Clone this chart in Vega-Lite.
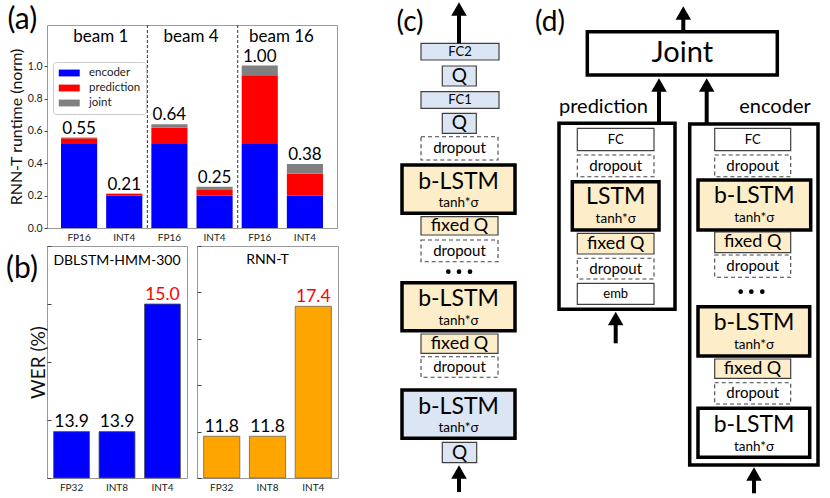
{
  "$schema": "https://vega.github.io/schema/vega-lite/v6.json",
  "background": "white",
  "padding": {"left": 5, "top": 2, "right": 0, "bottom": 0},
  "autosize": {"type": "pad"},
  "config": {
    "font": "Lato",
    "view": {"stroke": "#999"},
    "axis": {"grid": false, "domain": false, "titleFontWeight": "normal", "labelColor": "#222", "titleColor": "#111", "labelFont": "Lato", "titleFont": "Lato", "tickColor": "#444"},
    "legend": {"labelFont": "Lato"},
    "text": {"font": "Lato"}
  },
  "datasets": {
    "runtime": [
      {"cat": "1|FP16", "comp": "encoder", "v": 0.52, "k": 1, "lab": "0.55"},
      {"cat": "1|FP16", "comp": "prediction", "v": 0.035, "k": 2, "lab": "0.55"},
      {"cat": "1|FP16", "comp": "joint", "v": 0.004, "k": 3, "lab": "0.55"},
      {"cat": "1|INT4", "comp": "encoder", "v": 0.2, "k": 1, "lab": "0.21"},
      {"cat": "1|INT4", "comp": "prediction", "v": 0.01, "k": 2, "lab": "0.21"},
      {"cat": "1|INT4", "comp": "joint", "v": 0.003, "k": 3, "lab": "0.21"},
      {"cat": "4|FP16", "comp": "encoder", "v": 0.52, "k": 1, "lab": "0.64"},
      {"cat": "4|FP16", "comp": "prediction", "v": 0.1, "k": 2, "lab": "0.64"},
      {"cat": "4|FP16", "comp": "joint", "v": 0.022, "k": 3, "lab": "0.64"},
      {"cat": "4|INT4", "comp": "encoder", "v": 0.2, "k": 1, "lab": "0.25"},
      {"cat": "4|INT4", "comp": "prediction", "v": 0.035, "k": 2, "lab": "0.25"},
      {"cat": "4|INT4", "comp": "joint", "v": 0.02, "k": 3, "lab": "0.25"},
      {"cat": "16|FP16", "comp": "encoder", "v": 0.52, "k": 1, "lab": "1.00"},
      {"cat": "16|FP16", "comp": "prediction", "v": 0.424, "k": 2, "lab": "1.00"},
      {"cat": "16|FP16", "comp": "joint", "v": 0.06, "k": 3, "lab": "1.00"},
      {"cat": "16|INT4", "comp": "encoder", "v": 0.2, "k": 1, "lab": "0.38"},
      {"cat": "16|INT4", "comp": "prediction", "v": 0.135, "k": 2, "lab": "0.38"},
      {"cat": "16|INT4", "comp": "joint", "v": 0.06, "k": 3, "lab": "0.38"}
    ],
    "boxes": [
      {"x1": 560, "x2": 676, "y1": 123.3, "y2": 309.3, "c": "white", "b": "frame"},
      {"x1": 690.7, "x2": 819, "y1": 124, "y2": 465, "c": "white", "b": "frame"},
      {"x1": 422, "x2": 500, "y1": 43.3, "y2": 60, "c": "blue", "b": "thin"},
      {"x1": 443.3, "x2": 477.3, "y1": 66, "y2": 86, "c": "blue", "b": "thin"},
      {"x1": 422, "x2": 500, "y1": 91.7, "y2": 108.3, "c": "blue", "b": "thin"},
      {"x1": 443.3, "x2": 477.3, "y1": 113.3, "y2": 133.3, "c": "blue", "b": "thin"},
      {"x1": 422, "x2": 499, "y1": 136.7, "y2": 160, "c": "white", "b": "dash"},
      {"x1": 403, "x2": 516, "y1": 165, "y2": 213.3, "c": "yellow", "b": "thick"},
      {"x1": 422, "x2": 499, "y1": 216.7, "y2": 235, "c": "yellow", "b": "thin"},
      {"x1": 422, "x2": 499, "y1": 240, "y2": 261.7, "c": "white", "b": "dash"},
      {"x1": 403, "x2": 516, "y1": 282.7, "y2": 330.7, "c": "yellow", "b": "thick"},
      {"x1": 422, "x2": 499, "y1": 334, "y2": 353.3, "c": "yellow", "b": "thin"},
      {"x1": 422, "x2": 499, "y1": 356.7, "y2": 377.3, "c": "white", "b": "dash"},
      {"x1": 403, "x2": 516, "y1": 390, "y2": 438.3, "c": "blue", "b": "thick"},
      {"x1": 443.3, "x2": 477.7, "y1": 442.3, "y2": 462.7, "c": "blue", "b": "thin"},
      {"x1": 588.3, "x2": 778.3, "y1": 31.7, "y2": 75, "c": "white", "b": "thick"},
      {"x1": 578.3, "x2": 655, "y1": 128.3, "y2": 150.7, "c": "white", "b": "thin"},
      {"x1": 578.3, "x2": 655, "y1": 155, "y2": 176.7, "c": "white", "b": "dash"},
      {"x1": 573.3, "x2": 660, "y1": 181.7, "y2": 230, "c": "yellow", "b": "thick"},
      {"x1": 578.3, "x2": 655, "y1": 233.3, "y2": 254, "c": "yellow", "b": "thin"},
      {"x1": 578.3, "x2": 655, "y1": 258.3, "y2": 279, "c": "white", "b": "dash"},
      {"x1": 578.3, "x2": 655, "y1": 283.3, "y2": 304.3, "c": "white", "b": "thin"},
      {"x1": 715.7, "x2": 791.7, "y1": 128.3, "y2": 150.7, "c": "white", "b": "thin"},
      {"x1": 715.7, "x2": 791.7, "y1": 155, "y2": 176.7, "c": "white", "b": "dash"},
      {"x1": 699, "x2": 811.7, "y1": 180, "y2": 230, "c": "yellow", "b": "thick"},
      {"x1": 715.7, "x2": 791.7, "y1": 232, "y2": 252.7, "c": "yellow", "b": "thin"},
      {"x1": 715.7, "x2": 791.7, "y1": 255, "y2": 277.3, "c": "white", "b": "dash"},
      {"x1": 699, "x2": 810.7, "y1": 306.7, "y2": 356, "c": "yellow", "b": "thick"},
      {"x1": 715.7, "x2": 791.7, "y1": 359, "y2": 378.3, "c": "yellow", "b": "thin"},
      {"x1": 715.7, "x2": 791.7, "y1": 382.7, "y2": 404, "c": "white", "b": "dash"},
      {"x1": 699, "x2": 810.7, "y1": 408.3, "y2": 457.3, "c": "white", "b": "thick"}
    ],
    "arrows": [
      {"x": 460, "tail": 43.3, "neck": 12, "head": 9},
      {"x": 460, "tail": 492, "neck": 475, "head": 472},
      {"x": 684.3, "tail": 31.7, "neck": 16, "head": 13},
      {"x": 660, "tail": 123.3, "neck": 88, "head": 85},
      {"x": 707.7, "tail": 124, "neck": 88, "head": 85},
      {"x": 616.7, "tail": 343.3, "neck": 321, "head": 318.5},
      {"x": 755, "tail": 493.3, "neck": 477, "head": 474}
    ],
    "dots": [
      {"x": 449.3, "y": 271.7}, {"x": 460, "y": 271.7}, {"x": 471, "y": 271.7},
      {"x": 741.7, "y": 291.7}, {"x": 752.3, "y": 291.7}, {"x": 763.3, "y": 291.7}
    ],
    "labels": [
      {"t": "(c)", "x": 411, "y": 23},
      {"t": "FC2", "x": 461, "y": 51.7},
      {"t": "Q", "x": 460.3, "y": 76},
      {"t": "FC1", "x": 461, "y": 100},
      {"t": "Q", "x": 460.3, "y": 123.3},
      {"t": "dropout", "x": 460.5, "y": 148.3},
      {"t": "b-LSTM", "x": 459.5, "y": 181.5},
      {"t": "tanh*σ", "x": 459.5, "y": 203},
      {"t": "fixed Q", "x": 460.5, "y": 225.8},
      {"t": "dropout", "x": 460.5, "y": 250.8},
      {"t": "b-LSTM", "x": 459.5, "y": 299},
      {"t": "tanh*σ", "x": 459.5, "y": 320.5},
      {"t": "fixed Q", "x": 460.5, "y": 343.6},
      {"t": "dropout", "x": 460.5, "y": 367},
      {"t": "b-LSTM", "x": 459.5, "y": 406.5},
      {"t": "tanh*σ", "x": 459.5, "y": 428},
      {"t": "Q", "x": 460.5, "y": 452.5},
      {"t": "(d)", "x": 551, "y": 23},
      {"t": "Joint", "x": 683.3, "y": 53.3},
      {"t": "prediction", "x": 604.5, "y": 107},
      {"t": "encoder", "x": 776, "y": 107},
      {"t": "FC", "x": 616.7, "y": 139.5},
      {"t": "dropout", "x": 616.7, "y": 165.8},
      {"t": "LSTM", "x": 616.7, "y": 197},
      {"t": "tanh*σ", "x": 616.7, "y": 218.5},
      {"t": "fixed Q", "x": 616.7, "y": 243.7},
      {"t": "dropout", "x": 616.7, "y": 268.7},
      {"t": "emb", "x": 616.7, "y": 293.8},
      {"t": "FC", "x": 753.7, "y": 139.5},
      {"t": "dropout", "x": 753.7, "y": 165.8},
      {"t": "b-LSTM", "x": 755.3, "y": 196},
      {"t": "tanh*σ", "x": 755.3, "y": 218},
      {"t": "fixed Q", "x": 753.7, "y": 242.3},
      {"t": "dropout", "x": 753.7, "y": 266},
      {"t": "b-LSTM", "x": 755, "y": 322.5},
      {"t": "tanh*σ", "x": 755, "y": 344.5},
      {"t": "fixed Q", "x": 753.5, "y": 368.7},
      {"t": "dropout", "x": 753.7, "y": 393.3},
      {"t": "b-LSTM", "x": 755, "y": 424.5},
      {"t": "tanh*σ", "x": 755, "y": 446.5}
    ]
  },
  "spacing": 5,
  "hconcat": [
    {
      "spacing": 2,
      "vconcat": [
        {
          "width": 290,
          "height": 203,
          "data": {"name": "runtime"},
          "layer": [
            {
              "mark": {"type": "bar"},
              "encoding": {
                "x": {"field": "cat", "type": "nominal", "title": null,
                  "scale": {"domain": ["1|FP16", "1|INT4", "4|FP16", "4|INT4", "16|FP16", "16|INT4"], "paddingInner": 0.2, "paddingOuter": 0.31},
                  "axis": {"labelExpr": "split(datum.value, '|')[1]", "labelAngle": 0, "ticks": false, "labelPadding": 4, "labelFontSize": 10}},
                "y": {"field": "v", "type": "quantitative", "stack": "zero", "title": "RNN-T runtime (norm)",
                  "scale": {"domain": [0, 1.255], "nice": false},
                  "axis": {"values": [0, 0.2, 0.4, 0.6, 0.8, 1.0], "format": ".1f", "tickSize": 3, "labelFontSize": 10.5, "labelPadding": 2, "titleFontSize": 16, "titlePadding": 3}},
                "color": {"field": "comp", "type": "nominal",
                  "scale": {"domain": ["encoder", "prediction", "joint"], "range": ["#0000ff", "#ff0000", "#808080"]},
                  "legend": {"title": null, "orient": "none", "legendX": 6, "legendY": 37, "symbolType": "M-1,-0.65H3V0.65H-1Z", "symbolSize": 110, "symbolStrokeWidth": 0.6, "labelFontSize": 11.5, "labelOffset": 19, "rowPadding": 3, "padding": 5, "strokeColor": "#ccc", "fillColor": "white", "cornerRadius": 3, "labelColor": "#222"}},
                "order": {"field": "k", "type": "quantitative"}
              }
            },
            {
              "transform": [{"aggregate": [{"op": "sum", "field": "v", "as": "top"}], "groupby": ["cat", "lab"]}],
              "mark": {"type": "text", "baseline": "alphabetic", "dy": -4, "fontSize": 17},
              "encoding": {
                "x": {"field": "cat", "type": "nominal", "title": null},
                "y": {"field": "top", "type": "quantitative", "title": "RNN-T runtime (norm)"},
                "text": {"field": "lab"}
              }
            },
            {
              "data": {"values": [{"cat": "1|INT4"}, {"cat": "4|INT4"}]},
              "mark": {"type": "rule", "strokeDash": [3, 2], "color": "#333", "strokeWidth": 1},
              "encoding": {"x": {"field": "cat", "type": "nominal", "title": null, "bandPosition": 1.14}}
            },
            {
              "data": {"values": [{"cat": "1|FP16", "b": "beam 1"}, {"cat": "4|FP16", "b": "beam 4"}, {"cat": "16|FP16", "b": "beam 16"}]},
              "mark": {"type": "text", "fontSize": 17, "baseline": "alphabetic"},
              "encoding": {
                "x": {"field": "cat", "type": "nominal", "title": null, "bandPosition": 1.1},
                "y": {"datum": 1.15, "type": "quantitative", "title": "RNN-T runtime (norm)"},
                "text": {"field": "b"}
              }
            },
            {
              "data": {"values": [{"cat": "1|FP16", "p": "(a)"}]},
              "mark": {"type": "text", "fontSize": 30, "baseline": "middle"},
              "encoding": {
                "x": {"field": "cat", "type": "nominal", "title": null, "bandPosition": -1.07},
                "y": {"datum": 1.284, "type": "quantitative", "title": "RNN-T runtime (norm)"},
                "text": {"field": "p"}
              }
            }
          ]
        },
        {
          "spacing": 8,
          "hconcat": [
            {
              "width": 140,
              "height": 232,
              "data": {"values": [{"p": "FP32", "w": 13.9, "l": "13.9"}, {"p": "INT8", "w": 13.9, "l": "13.9"}, {"p": "INT4", "w": 15.0, "l": "15.0"}]},
              "layer": [
                {
                  "mark": {"type": "bar", "color": "#0000ff", "stroke": "#555", "strokeWidth": 0.8},
                  "encoding": {
                    "x": {"field": "p", "type": "nominal", "title": null,
                      "scale": {"domain": ["FP32", "INT8", "INT4"], "paddingInner": 0.21, "paddingOuter": 0.145},
                      "axis": {"labelAngle": 0, "ticks": false, "labelPadding": 4, "labelFontSize": 10}},
                    "y": {"field": "w", "type": "quantitative", "title": "WER (%)",
                      "scale": {"domain": [13.5, 15.5], "nice": false, "zero": false},
                      "axis": {"labels": false, "tickSize": -4, "values": [13.5, 14, 14.5, 15, 15.5], "titleFontSize": 19, "titlePadding": -2}},
                    "y2": {"datum": 13.5}
                  }
                },
                {
                  "mark": {"type": "text", "baseline": "alphabetic", "dy": -4.5, "fontSize": 17.5},
                  "encoding": {
                    "x": {"field": "p", "type": "nominal", "title": null},
                    "y": {"field": "w", "type": "quantitative", "title": "WER (%)"},
                    "text": {"field": "l"},
                    "color": {"condition": {"test": "datum.p === 'INT4'", "value": "#ff0000"}, "value": "#000000"}
                  }
                },
                {
                  "data": {"values": [{"p": "INT8", "n": "DBLSTM-HMM-300"}]},
                  "mark": {"type": "text", "fontSize": 14, "baseline": "middle"},
                  "encoding": {
                    "x": {"field": "p", "type": "nominal", "title": null},
                    "y": {"datum": 15.375, "type": "quantitative", "title": "WER (%)"},
                    "text": {"field": "n"}
                  }
                },
                {
                  "data": {"values": [{"p": "FP32", "n": "(b)"}]},
                  "mark": {"type": "text", "fontSize": 30, "baseline": "middle"},
                  "encoding": {
                    "x": {"field": "p", "type": "nominal", "title": null, "bandPosition": -0.88},
                    "y": {"datum": 15.3, "type": "quantitative", "title": "WER (%)"},
                    "text": {"field": "n"}
                  }
                }
              ]
            },
            {
              "width": 141,
              "height": 232,
              "data": {"values": [{"p": "FP32", "w": 11.8, "l": "11.8"}, {"p": "INT8", "w": 11.8, "l": "11.8"}, {"p": "INT4", "w": 17.4, "l": "17.4"}]},
              "layer": [
                {
                  "mark": {"type": "bar", "color": "#ffa500", "stroke": "#666", "strokeWidth": 0.8},
                  "encoding": {
                    "x": {"field": "p", "type": "nominal", "title": null,
                      "scale": {"domain": ["FP32", "INT8", "INT4"], "paddingInner": 0.21, "paddingOuter": 0.145},
                      "axis": {"labelAngle": 0, "ticks": false, "labelPadding": 4, "labelFontSize": 10}},
                    "y": {"field": "w", "type": "quantitative", "title": null,
                      "scale": {"domain": [10, 20], "nice": false, "zero": false},
                      "axis": {"labels": false, "tickSize": -4, "values": [10, 11, 12, 13, 14, 15, 16, 17, 18, 19, 20]}},
                    "y2": {"datum": 10}
                  }
                },
                {
                  "mark": {"type": "text", "baseline": "alphabetic", "dy": -4.5, "fontSize": 17.5},
                  "encoding": {
                    "x": {"field": "p", "type": "nominal", "title": null},
                    "y": {"field": "w", "type": "quantitative", "title": null},
                    "text": {"field": "l"},
                    "color": {"condition": {"test": "datum.p === 'INT4'", "value": "#ff0000"}, "value": "#000000"}
                  }
                },
                {
                  "data": {"values": [{"p": "INT8", "n": "RNN-T"}]},
                  "mark": {"type": "text", "fontSize": 14, "baseline": "middle"},
                  "encoding": {
                    "x": {"field": "p", "type": "nominal", "title": null},
                    "y": {"datum": 19.4, "type": "quantitative", "title": null},
                    "text": {"field": "n"}
                  }
                }
              ]
            }
          ]
        }
      ]
    },
    {
      "width": 485,
      "height": 473,
      "view": {"stroke": null},
      "encoding": {
        "x": {"type": "quantitative", "scale": {"domain": [345, 830], "nice": false, "zero": false}, "axis": null},
        "y": {"type": "quantitative", "scale": {"domain": [25, 498], "reverse": true, "nice": false, "zero": false}, "axis": null}
      },
      "layer": [
        {
          "data": {"name": "boxes"},
          "transform": [{"filter": "datum.b === 'frame'"}],
          "mark": {"type": "rect", "stroke": "#000", "strokeWidth": 3.5, "fill": "white"},
          "encoding": {"x": {"field": "x1", "type": "quantitative"}, "x2": {"field": "x2"}, "y": {"field": "y1", "type": "quantitative"}, "y2": {"field": "y2"}}
        },
        {
          "data": {"name": "boxes"},
          "transform": [{"filter": "datum.b === 'thin'"}],
          "mark": {"type": "rect", "stroke": "#404040", "strokeWidth": 1.2},
          "encoding": {"x": {"field": "x1", "type": "quantitative"}, "x2": {"field": "x2"}, "y": {"field": "y1", "type": "quantitative"}, "y2": {"field": "y2"},
            "fill": {"field": "c", "type": "nominal", "scale": {"domain": ["blue", "yellow", "white"], "range": ["#dbe5f3", "#fdedc9", "#ffffff"]}, "legend": null}}
        },
        {
          "data": {"name": "boxes"},
          "transform": [{"filter": "datum.b === 'dash'"}],
          "mark": {"type": "rect", "stroke": "#444", "strokeWidth": 1.1, "strokeDash": [4, 3]},
          "encoding": {"x": {"field": "x1", "type": "quantitative"}, "x2": {"field": "x2"}, "y": {"field": "y1", "type": "quantitative"}, "y2": {"field": "y2"},
            "fill": {"field": "c", "type": "nominal", "scale": {"domain": ["blue", "yellow", "white"], "range": ["#dbe5f3", "#fdedc9", "#ffffff"]}, "legend": null}}
        },
        {
          "data": {"name": "boxes"},
          "transform": [{"filter": "datum.b === 'thick'"}],
          "mark": {"type": "rect", "stroke": "#000", "strokeWidth": 3.5},
          "encoding": {"x": {"field": "x1", "type": "quantitative"}, "x2": {"field": "x2"}, "y": {"field": "y1", "type": "quantitative"}, "y2": {"field": "y2"},
            "fill": {"field": "c", "type": "nominal", "scale": {"domain": ["blue", "yellow", "white"], "range": ["#dbe5f3", "#fdedc9", "#ffffff"]}, "legend": null}}
        },
        {
          "data": {"name": "arrows"},
          "mark": {"type": "rule", "color": "#000", "strokeWidth": 4},
          "encoding": {"x": {"field": "x", "type": "quantitative"}, "y": {"field": "tail", "type": "quantitative"}, "y2": {"field": "neck"}}
        },
        {
          "data": {"name": "arrows"},
          "mark": {"type": "point", "shape": "triangle-up", "filled": true, "color": "#000", "opacity": 1, "size": 240},
          "encoding": {"x": {"field": "x", "type": "quantitative"}, "y": {"field": "head", "type": "quantitative"}}
        },
        {
          "data": {"name": "dots"},
          "mark": {"type": "point", "shape": "circle", "filled": true, "color": "#000", "opacity": 1, "size": 22},
          "encoding": {"x": {"field": "x", "type": "quantitative"}, "y": {"field": "y", "type": "quantitative"}}
        },
        {
          "data": {"name": "labels"},
          "mark": {"type": "text", "baseline": "middle", "align": "center", "color": "#000"},
          "encoding": {
            "x": {"field": "x", "type": "quantitative"},
            "y": {"field": "y", "type": "quantitative"},
            "text": {"field": "t"},
            "size": {
              "condition": [
                {"test": "datum.t === '(c)' || datum.t === '(d)'", "value": 28},
                {"test": "datum.t === 'Joint'", "value": 29},
                {"test": "datum.t === 'b-LSTM' || datum.t === 'LSTM'", "value": 23},
                {"test": "datum.t === 'prediction' || datum.t === 'encoder'", "value": 20},
                {"test": "datum.t === 'Q'", "value": 19},
                {"test": "datum.t === 'fixed Q'", "value": 18},
                {"test": "datum.t === 'dropout'", "value": 15},
                {"test": "datum.t === 'tanh*σ'", "value": 13.5}
              ],
              "value": 13
            }
          }
        }
      ]
    }
  ]
}
